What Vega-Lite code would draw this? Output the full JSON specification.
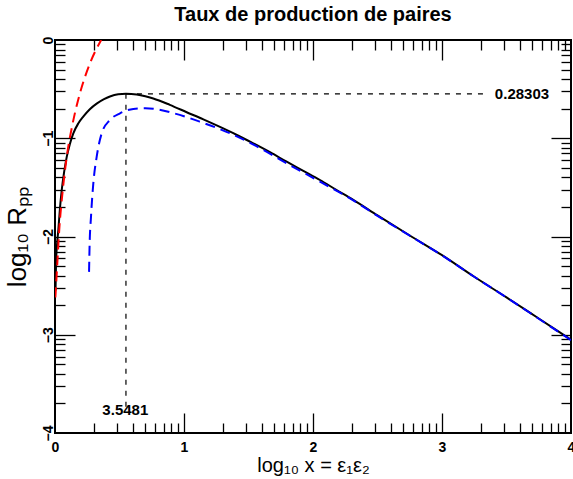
{
  "$schema": "https://vega.github.io/schema/vega-lite/v6.json",
  "width": 516,
  "height": 393,
  "autosize": {"type": "none"},
  "padding": {"left": 55, "top": 40, "right": 2, "bottom": 46},
  "background": "white",
  "config": {
    "font": "Liberation Sans",
    "view": {"stroke": "black", "strokeWidth": 2},
    "axis": {"domain": false, "grid": false, "labelFlush": false, "labelOverlap": false, "labelBound": false, "tickColor": "black", "labelColor": "black", "titleColor": "black"}
  },
  "title": {"text": "Taux de production de paires", "font": "Liberation Sans", "fontSize": 20, "fontWeight": "bold", "color": "black", "anchor": "middle", "frame": "group", "baseline": "alphabetic", "offset": -5},
  "resolve": {"axis": {"x": "independent", "y": "independent"}},
  "datasets": {
    "noir": [
      {"x": 0.004, "y": -2.55}, {"x": 0.008, "y": -2.27}, {"x": 0.016, "y": -2.08}, {"x": 0.026, "y": -1.93},
      {"x": 0.038, "y": -1.72}, {"x": 0.052, "y": -1.53}, {"x": 0.07, "y": -1.35}, {"x": 0.091, "y": -1.19},
      {"x": 0.115, "y": -1.06}, {"x": 0.142, "y": -0.95}, {"x": 0.18, "y": -0.85}, {"x": 0.219, "y": -0.78},
      {"x": 0.27, "y": -0.705}, {"x": 0.323, "y": -0.648}, {"x": 0.38, "y": -0.602}, {"x": 0.426, "y": -0.575},
      {"x": 0.49, "y": -0.553}, {"x": 0.55, "y": -0.548}, {"x": 0.633, "y": -0.555}, {"x": 0.7, "y": -0.572},
      {"x": 0.762, "y": -0.595}, {"x": 0.89, "y": -0.66}, {"x": 1.021, "y": -0.735}, {"x": 1.15, "y": -0.808},
      {"x": 1.279, "y": -0.885}, {"x": 1.41, "y": -0.967}, {"x": 1.537, "y": -1.052}, {"x": 1.67, "y": -1.145},
      {"x": 1.796, "y": -1.239}, {"x": 1.925, "y": -1.332}, {"x": 2.054, "y": -1.425}, {"x": 2.18, "y": -1.525},
      {"x": 2.312, "y": -1.628}, {"x": 2.5, "y": -1.785}, {"x": 2.75, "y": -1.99}, {"x": 3.0, "y": -2.19},
      {"x": 3.25, "y": -2.41}, {"x": 3.5, "y": -2.62}, {"x": 3.75, "y": -2.835}, {"x": 4.0, "y": -3.05}
    ],
    "bleu": [
      {"x": 0.264, "y": -2.36}, {"x": 0.268, "y": -2.1}, {"x": 0.279, "y": -1.8}, {"x": 0.297, "y": -1.46},
      {"x": 0.323, "y": -1.19}, {"x": 0.362, "y": -0.95}, {"x": 0.426, "y": -0.814}, {"x": 0.504, "y": -0.746},
      {"x": 0.607, "y": -0.702}, {"x": 0.7, "y": -0.695}, {"x": 0.762, "y": -0.7}, {"x": 0.917, "y": -0.744},
      {"x": 1.124, "y": -0.832}, {"x": 1.357, "y": -0.95}, {"x": 1.589, "y": -1.1}, {"x": 1.796, "y": -1.255},
      {"x": 2.054, "y": -1.442}, {"x": 2.312, "y": -1.632}, {"x": 2.5, "y": -1.79}, {"x": 2.75, "y": -1.992},
      {"x": 3.0, "y": -2.192}, {"x": 3.25, "y": -2.41}, {"x": 3.5, "y": -2.62}, {"x": 3.75, "y": -2.837},
      {"x": 4.0, "y": -3.055}
    ],
    "rouge": [
      {"x": 0.003, "y": -2.62}, {"x": 0.018, "y": -2.27}, {"x": 0.033, "y": -1.93}, {"x": 0.06, "y": -1.53},
      {"x": 0.091, "y": -1.19}, {"x": 0.137, "y": -0.85}, {"x": 0.194, "y": -0.54}, {"x": 0.271, "y": -0.237},
      {"x": 0.358, "y": 0.0}
    ],
    "reperes": [
      {"x": 0.55, "x2": 0.55, "y": -0.548, "y2": -3.74},
      {"x": 0.55, "x2": 3.35, "y": -0.548, "y2": -0.548}
    ],
    "etiquettes": [
      {"x": 0.545, "y": -3.77, "label": "3.5481"},
      {"x": 3.62, "y": -0.548, "label": "0.28303"}
    ]
  },
  "layer": [
    {
      "data": {"name": "noir"},
      "mark": {"type": "line", "color": "black", "strokeWidth": 2, "interpolate": "monotone", "clip": true},
      "encoding": {
        "x": {"field": "x", "type": "quantitative", "scale": {"domain": [0, 4], "nice": false, "zero": false},
          "axis": {"orient": "bottom", "values": [0, 1, 2, 3, 4], "format": "d", "ticks": false, "labelFontSize": 14, "labelFontWeight": "bold", "labelPadding": 7,
            "title": "log₁₀  x = ε₁ε₂", "titleFontSize": 20, "titleFontWeight": "normal", "titlePadding": 1}},
        "y": {"field": "y", "type": "quantitative", "scale": {"domain": [-4, 0], "nice": false, "zero": false},
          "axis": {"orient": "left", "values": [-4, -3, -2, -1, 0], "format": "d", "ticks": false, "labelFontSize": 14, "labelFontWeight": "bold", "labelAngle": 270, "labelAlign": "center", "labelBaseline": "alphabetic", "labelPadding": 3,
            "title": "log₁₀  Rₚₚ", "titleFontSize": 26, "titleFontWeight": "normal", "titlePadding": 11}}
      }
    },
    {
      "data": {"name": "bleu"},
      "mark": {"type": "line", "color": "#0000ff", "strokeWidth": 2, "strokeDash": [10, 6], "interpolate": "monotone", "clip": true},
      "encoding": {
        "x": {"field": "x", "type": "quantitative", "scale": {"domain": [0, 4], "nice": false, "zero": false},
          "axis": {"orient": "bottom", "values": [1, 2, 3], "labels": false, "tickSize": -20, "tickWidth": 1.3, "title": null}},
        "y": {"field": "y", "type": "quantitative", "scale": {"domain": [-4, 0], "nice": false, "zero": false},
          "axis": {"orient": "left", "values": [-3, -2, -1], "labels": false, "tickSize": -20, "tickWidth": 1.3, "title": null}}
      }
    },
    {
      "data": {"name": "rouge"},
      "mark": {"type": "line", "color": "#ff0000", "strokeWidth": 2, "strokeDash": [10, 6], "interpolate": "monotone", "clip": true},
      "encoding": {
        "x": {"field": "x", "type": "quantitative", "scale": {"domain": [0, 4], "nice": false, "zero": false},
          "axis": {"orient": "bottom", "values": [0.30103, 0.47712, 0.60206, 0.69897, 0.77815, 0.8451, 0.90309, 0.95424, 1.30103, 1.47712, 1.60206, 1.69897, 1.77815, 1.8451, 1.90309, 1.95424, 2.30103, 2.47712, 2.60206, 2.69897, 2.77815, 2.8451, 2.90309, 2.95424, 3.30103, 3.47712, 3.60206, 3.69897, 3.77815, 3.8451, 3.90309, 3.95424],
            "labels": false, "tickSize": -10, "tickWidth": 1.3, "title": null}},
        "y": {"field": "y", "type": "quantitative", "scale": {"domain": [-4, 0], "nice": false, "zero": false},
          "axis": {"orient": "left", "values": [-3.69897, -3.52288, -3.39794, -3.30103, -3.22185, -3.1549, -3.09691, -3.04576, -2.69897, -2.52288, -2.39794, -2.30103, -2.22185, -2.1549, -2.09691, -2.04576, -1.69897, -1.52288, -1.39794, -1.30103, -1.22185, -1.1549, -1.09691, -1.04576, -0.69897, -0.52288, -0.39794, -0.30103, -0.22185, -0.1549, -0.09691, -0.04576],
            "labels": false, "tickSize": -10, "tickWidth": 1.3, "title": null}}
      }
    },
    {
      "data": {"name": "reperes"},
      "mark": {"type": "rule", "color": "black", "strokeWidth": 1.2, "strokeDash": [5, 6]},
      "encoding": {
        "x": {"field": "x", "type": "quantitative", "scale": {"domain": [0, 4], "nice": false, "zero": false},
          "axis": {"orient": "top", "values": [1, 2, 3], "labels": false, "tickSize": -20, "tickWidth": 1.3, "title": null}},
        "x2": {"field": "x2"},
        "y": {"field": "y", "type": "quantitative", "scale": {"domain": [-4, 0], "nice": false, "zero": false},
          "axis": {"orient": "right", "values": [-3, -2, -1], "labels": false, "tickSize": -20, "tickWidth": 1.3, "title": null}},
        "y2": {"field": "y2"}
      }
    },
    {
      "data": {"name": "etiquettes"},
      "mark": {"type": "text", "font": "Liberation Sans", "fontSize": 15, "fontWeight": "bold", "color": "black", "align": "center", "baseline": "middle"},
      "encoding": {
        "x": {"field": "x", "type": "quantitative", "scale": {"domain": [0, 4], "nice": false, "zero": false},
          "axis": {"orient": "top", "values": [0.30103, 0.47712, 0.60206, 0.69897, 0.77815, 0.8451, 0.90309, 0.95424, 1.30103, 1.47712, 1.60206, 1.69897, 1.77815, 1.8451, 1.90309, 1.95424, 2.30103, 2.47712, 2.60206, 2.69897, 2.77815, 2.8451, 2.90309, 2.95424, 3.30103, 3.47712, 3.60206, 3.69897, 3.77815, 3.8451, 3.90309, 3.95424],
            "labels": false, "tickSize": -10, "tickWidth": 1.3, "title": null}},
        "y": {"field": "y", "type": "quantitative", "scale": {"domain": [-4, 0], "nice": false, "zero": false},
          "axis": {"orient": "right", "values": [-3.69897, -3.52288, -3.39794, -3.30103, -3.22185, -3.1549, -3.09691, -3.04576, -2.69897, -2.52288, -2.39794, -2.30103, -2.22185, -2.1549, -2.09691, -2.04576, -1.69897, -1.52288, -1.39794, -1.30103, -1.22185, -1.1549, -1.09691, -1.04576, -0.69897, -0.52288, -0.39794, -0.30103, -0.22185, -0.1549, -0.09691, -0.04576],
            "labels": false, "tickSize": -10, "tickWidth": 1.3, "title": null}},
        "text": {"field": "label", "type": "nominal"}
      }
    }
  ]
}
